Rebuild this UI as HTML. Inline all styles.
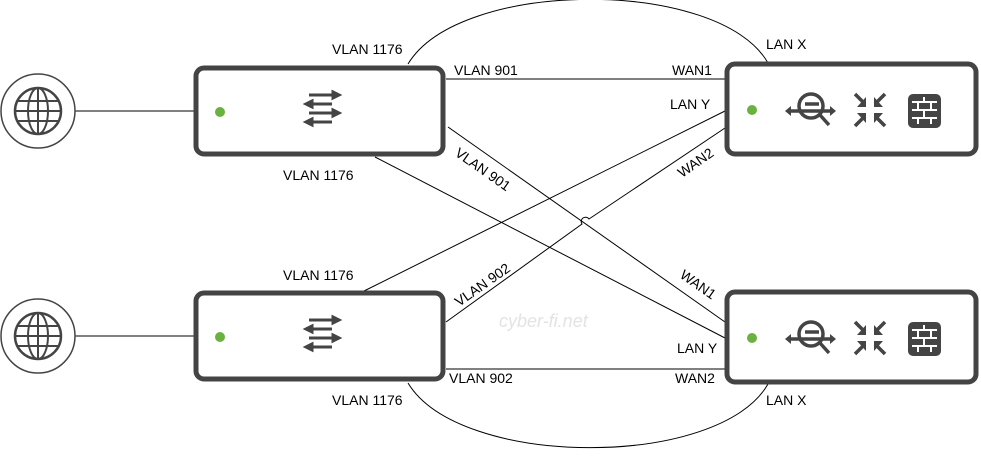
<!DOCTYPE html>
<html><head><meta charset="utf-8"><style>
html,body{margin:0;padding:0;background:#fff;}
svg{display:block;}
text{font-family:"Liberation Sans",sans-serif;font-size:14px;fill:#000;}
</style></head><body>
<svg width="981" height="466" viewBox="0 0 981 466" xmlns="http://www.w3.org/2000/svg">
<defs>
<g id="globe">
<circle cx="0" cy="0" r="37" fill="#fff" stroke="#444" stroke-width="1.5"/>
<circle cx="0" cy="0" r="23" fill="none" stroke="#444" stroke-width="2.5"/>
<ellipse cx="0" cy="0" rx="10" ry="23" fill="none" stroke="#444" stroke-width="2"/>
<line x1="0" y1="-23" x2="0" y2="23" stroke="#444" stroke-width="2"/>
<line x1="-23" y1="0" x2="23" y2="0" stroke="#444" stroke-width="2"/>
<line x1="-20" y1="-10" x2="20" y2="-10" stroke="#444" stroke-width="2"/>
<line x1="-20" y1="10" x2="20" y2="10" stroke="#444" stroke-width="2"/>
</g>
<g id="sw">
<rect x="0" y="0" width="247" height="86" rx="8" fill="#fff" stroke="#444" stroke-width="5"/>
<circle cx="24" cy="44" r="5" fill="#6ab140"/>
<g stroke="#444" stroke-width="3" fill="#444">
<line x1="113" y1="27" x2="138" y2="27"/><path d="M137,24 L143,27 L137,30Z"/>
<line x1="115" y1="36" x2="136" y2="36"/><path d="M116,33 L110,36 L116,39Z"/>
<line x1="113" y1="45" x2="138" y2="45"/><path d="M137,42 L143,45 L137,48Z"/>
<line x1="115" y1="54" x2="136" y2="54"/><path d="M116,51 L110,54 L116,57Z"/>
</g>
</g>
<g id="fw">
<rect x="0" y="0" width="249" height="90" rx="8" fill="#fff" stroke="#444" stroke-width="5"/>
<circle cx="25" cy="46" r="5" fill="#6ab140"/>
<g stroke="#444" stroke-width="3.5" fill="none">
<circle cx="84" cy="42" r="12"/>
<line x1="93" y1="51" x2="102" y2="61"/>
<line x1="63" y1="47" x2="104" y2="47"/>
<line x1="78" y1="40" x2="92" y2="40"/>
<line x1="128" y1="30" x2="138" y2="40"/><line x1="158" y1="30" x2="148" y2="40"/>
<line x1="128" y1="62" x2="138" y2="52"/><line x1="158" y1="62" x2="148" y2="52"/>
</g>
<g fill="#444">
<path d="M64,42 L58,47 L64,52Z"/><path d="M103,42 L109,47 L103,52Z"/>
<path d="M139,33 L139,43 L130,43Z"/><path d="M147,33 L147,43 L156,43Z"/>
<path d="M139,59 L139,49 L130,49Z"/><path d="M147,59 L147,49 L156,49Z"/>
<rect x="181" y="30" width="33" height="34" rx="5"/>
</g>
<g stroke="#fff" stroke-width="2">
<line x1="185" y1="38" x2="210" y2="38"/><line x1="185" y1="46" x2="210" y2="46"/><line x1="185" y1="54" x2="210" y2="54"/>
<line x1="197" y1="33" x2="197" y2="38"/><line x1="191" y1="38" x2="191" y2="46"/><line x1="204" y1="38" x2="204" y2="46"/><line x1="197" y1="46" x2="197" y2="54"/><line x1="191" y1="54" x2="191" y2="60"/><line x1="204" y1="54" x2="204" y2="60"/>
</g>
</g>
</defs>
<g stroke="#000" stroke-width="1" fill="none">
<line x1="75" y1="111" x2="196" y2="111"/>
<line x1="75" y1="336" x2="196" y2="336"/>
<line x1="446" y1="79" x2="726" y2="79"/>
<line x1="446" y1="369" x2="726" y2="369"/>
<line x1="448" y1="127" x2="725" y2="322"/>
<line x1="375" y1="157" x2="725" y2="338"/>
<line x1="725" y1="111" x2="364" y2="291"/>
<path d="M725,128 L589,219 A4,4 0 0 0 582,224 L446,322"/>
<path d="M408,64 C460,-22 720,-22 768,63"/>
<path d="M408,383 C460,469 720,469 768,384"/>
</g>
<use href="#globe" x="38" y="111"/>
<use href="#globe" x="38" y="336"/>
<use href="#sw" x="196" y="68"/>
<use href="#sw" x="196" y="293"/>
<use href="#fw" x="727" y="64"/>
<use href="#fw" x="727" y="292"/>
<text x="332" y="54">VLAN 1176</text>
<text x="454" y="75">VLAN 901</text>
<text x="672" y="75">WAN1</text>
<text x="766" y="49">LAN X</text>
<text x="670" y="109">LAN Y</text>
<text x="283" y="180">VLAN 1176</text>
<text x="283" y="280">VLAN 1176</text>
<text transform="translate(454,155) rotate(35)">VLAN 901</text>
<text transform="translate(682,178) rotate(-35)">WAN2</text>
<text transform="translate(459,307) rotate(-35)">VLAN 902</text>
<text transform="translate(679,277) rotate(35)">WAN1</text>
<text x="677" y="353">LAN Y</text>
<text x="449" y="383">VLAN 902</text>
<text x="675" y="383">WAN2</text>
<text x="332" y="405">VLAN 1176</text>
<text x="766" y="405">LAN X</text>
<text x="499" y="327" style="font-size:18px;font-style:italic;fill:#e3e3e3">cyber-fi.net</text>
</svg>
</body></html>
